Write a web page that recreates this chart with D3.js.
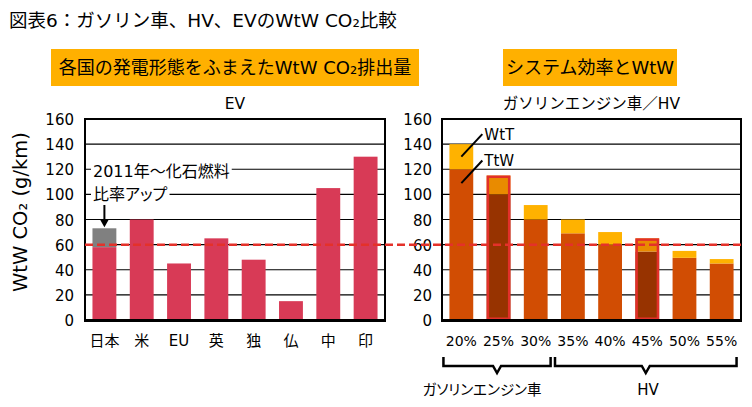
<!DOCTYPE html>
<html><head><meta charset="utf-8">
<script src="https://cdn.jsdelivr.net/npm/d3@7"></script>
<style>
html,body{margin:0;padding:0;background:#fff;}
svg{display:block;}
text{font-family:"DejaVu Sans","Noto Sans CJK JP",sans-serif;fill:#000;}
.palt{font-feature-settings:"palt";}
</style></head>
<body>
<svg id="chart" width="752" height="407"></svg>
<script>
// ---- data ----
const titleText = "図表6：ガソリン車、HV、EVのWtW CO₂比較";
const leftHeader = "各国の発電形態をふまえたWtW CO₂排出量";
const rightHeader = "システム効率とWtW";
const leftSub = "EV";
const rightSub = "ガソリンエンジン車／HV";
const yTitle = "WtW CO₂ (g/km)";
const yTicks = [0,20,40,60,80,100,120,140,160];

const evCats = ["日本","米","EU","英","独","仏","中","印"];
const evValues = [58,80,45,65,48,15,105,130];
const evFossilIncrease = [15,0,0,0,0,0,0,0];
const evNote = ["2011年～化石燃料","比率アップ"];

const effCats = ["20%","25%","30%","35%","40%","45%","50%","55%"];
const ttwValues = [120,100,80,69,60,54.5,49.5,45];
const wttValues = [20,15,11.5,11,10,10.5,5.5,3.5];
const highlighted = ["25%","45%"];
const groupLabels = ["ガソリンエンジン車","HV"];
const groupRanges = [["20%","30%"],["35%","55%"]];
const refLine = 60;

// ---- drawing ----
const svg = d3.select("#chart");
const C = {ev:"#D83A56", gray:"#808080", ttw:"#D14D03", wtt:"#FFB200",
           ttwH:"#973300", wttH:"#E98B00", outline:"#E2302A", dash:"#E4312A", box:"#FFB000"};

const y = d3.scaleLinear().domain([0,160]).range([320,119]);
const xL = d3.scaleBand().domain(evCats).range([85,385]).paddingInner(0.36).paddingOuter(0.2);
const xR = d3.scaleBand().domain(effCats).range([442,741]).paddingInner(0.36).paddingOuter(0.2);

// title
svg.append("text").attr("x",9).attr("y",27).attr("font-size",18.5).text(titleText);

// header boxes
function headerBox(x0,x1,txt){
  svg.append("rect").attr("x",x0).attr("y",49).attr("width",x1-x0).attr("height",37).attr("fill",C.box);
  svg.append("text").attr("x",(x0+x1)/2).attr("y",74).attr("text-anchor","middle").attr("font-size",18).text(txt);
}
headerBox(51,419,leftHeader);
headerBox(503,677,rightHeader);

// subtitles
svg.append("text").attr("x",235).attr("y",109).attr("text-anchor","middle").attr("font-size",15.5).text(leftSub);
svg.append("text").attr("x",591.5).attr("y",109).attr("text-anchor","middle").attr("font-size",15.5).text(rightSub);

// y title
svg.append("text").attr("transform","translate(27,212) rotate(-90)").attr("text-anchor","middle")
  .attr("font-size",19.5).text(yTitle);

function panel(x, labelX){
  const [a,b] = x.range();
  const g = svg.append("g");
  g.selectAll("line.grid").data(yTicks.filter(t=>t>0)).join("line")
    .attr("x1",a).attr("x2",b).attr("y1",d=>y(d)).attr("y2",d=>y(d))
    .attr("stroke","#000").attr("stroke-width",1.2);
  g.selectAll("text.tick").data(yTicks).join("text")
    .attr("x",labelX).attr("y",d=>y(d)+6).attr("text-anchor","end").attr("font-size",15).text(d=>d);
  return g;
}
const gL = panel(xL,74);
const gR = panel(xR,432);

// left bars
gL.selectAll("rect.ev").data(evCats).join("rect")
  .attr("x",d=>xL(d)).attr("width",xL.bandwidth())
  .attr("y",(d,i)=>y(evValues[i])).attr("height",(d,i)=>y(0)-y(evValues[i])).attr("fill",C.ev);
evCats.forEach((d,i)=>{
  if(evFossilIncrease[i]>0){
    gL.append("rect").attr("x",xL(d)).attr("width",xL.bandwidth())
      .attr("y",y(evValues[i]+evFossilIncrease[i])).attr("height",y(evValues[i])-y(evValues[i]+evFossilIncrease[i]))
      .attr("fill",C.gray);
  }
});

// right stacked bars
effCats.forEach((c,i)=>{
  const h = highlighted.includes(c);
  const x0 = xR(c), w = xR.bandwidth();
  gR.append("rect").attr("x",x0).attr("width",w).attr("y",y(ttwValues[i])).attr("height",y(0)-y(ttwValues[i]))
    .attr("fill",h?C.ttwH:C.ttw);
  const top = ttwValues[i]+wttValues[i];
  gR.append("rect").attr("x",x0).attr("width",w).attr("y",y(top)).attr("height",y(ttwValues[i])-y(top))
    .attr("fill",h?C.wttH:C.wtt);
  if(h){
    const sw=2.5;
    gR.append("rect").attr("x",x0+sw/2).attr("width",w-sw).attr("y",y(top)+sw/2).attr("height",y(0)-y(top)-sw)
      .attr("fill","none").attr("stroke",C.outline).attr("stroke-width",sw);
  }
});

// frames
function frame(x){
  const [a,b]=x.range();
  svg.append("path").attr("d",`M${a},${y(0)}V${y(160)}H${b}V${y(0)}`).attr("fill","none")
    .attr("stroke","#000").attr("stroke-width",2);
  svg.append("line").attr("x1",a-1).attr("x2",b+1).attr("y1",y(0)+0.5).attr("y2",y(0)+0.5)
    .attr("stroke","#000").attr("stroke-width",3);
}
frame(xL); frame(xR);

// x labels
svg.selectAll("text.xl").data(evCats).join("text").attr("x",d=>xL(d)+xL.bandwidth()/2).attr("y",346)
  .attr("text-anchor","middle").attr("font-size",15).text(d=>d);
svg.selectAll("text.xr").data(effCats).join("text").attr("x",d=>xR(d)+xR.bandwidth()/2).attr("y",346)
  .attr("text-anchor","middle").attr("font-size",14).text(d=>d);

// reference dashed line
svg.append("line").attr("x1",xL.range()[0]).attr("x2",xR.range()[1]).attr("y1",y(refLine)).attr("y2",y(refLine))
  .attr("stroke",C.dash).attr("stroke-width",2.5).attr("stroke-dasharray","8,4");

// EV note with white backgrounds
evNote.forEach((t,i)=>{
  const tx = svg.append("text").attr("class","palt").attr("x",93).attr("y",177+i*23).attr("font-size",16).text(t);
  const bb = tx.node().getBBox();
  svg.append("rect").attr("x",bb.x-2).attr("y",bb.y+2).attr("width",bb.width+4).attr("height",bb.height-4)
    .attr("fill","#fff");
  tx.raise();
});
// arrow
const ax = xL("日本")+xL.bandwidth()/2;
const aTip = y(evValues[0]+evFossilIncrease[0])-1;
svg.append("line").attr("x1",ax).attr("x2",ax).attr("y1",205).attr("y2",aTip-7).attr("stroke","#000").attr("stroke-width",2);
svg.append("path").attr("d",`M${ax-4.5},${aTip-8}L${ax+4.5},${aTip-8}L${ax},${aTip}Z`).attr("fill","#000");

// WtT / TtW leaders
const bx = xR("20%")+xR.bandwidth()/2;
[["WtT",130,148],["TtW",109,127]].forEach(([t,v0,v1])=>{
  svg.append("line").attr("x1",bx).attr("y1",y(v0)).attr("x2",bx+21).attr("y2",y(v1)).attr("stroke","#000").attr("stroke-width",2);
  svg.append("text").attr("x",bx+23).attr("y",y(v1)+6).attr("font-size",15).text(t);
});

// group brackets
groupRanges.forEach(([s,e],i)=>{
  const x0 = xR(s)-6, x1 = xR(e)+xR.bandwidth()+3;
  const m = (x0+x1)/2, yb = 366;
  svg.append("path").attr("d",`M${x0},357V${yb}H${m-4}L${m},${yb+7}L${m+4},${yb}H${x1}V357`)
    .attr("fill","none").attr("stroke","#000").attr("stroke-width",2.5);
});
svg.append("text").attr("class","palt").attr("x",482).attr("y",395).attr("text-anchor","middle").attr("font-size",14.5).text(groupLabels[0]);
svg.append("text").attr("x",648).attr("y",395).attr("text-anchor","middle").attr("font-size",15).text(groupLabels[1]);
</script>
</body></html>
